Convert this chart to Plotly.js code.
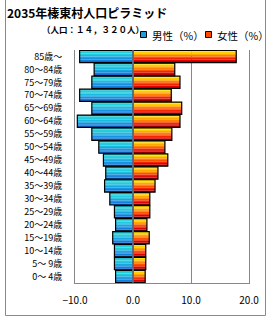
<!DOCTYPE html>
<html>
<head>
<meta charset="utf-8">
<script src="https://cdn.plot.ly/plotly-3.0.1.min.js"></script>
<style>
html,body{margin:0;padding:0;background:#fff;}
#chart{width:270px;height:320px;}
</style>
</head>
<body>
<div id="chart"></div>
<script>
// Age groups, bottom to top
const categories = ["0～ 4歳","5～ 9歳","10～14歳","15～19歳","20～24歳","25～29歳","30～34歳","35～39歳","40～44歳","45～49歳","50～54歳","55～59歳","60～64歳","65～69歳","70～74歳","75～79歳","80～84歳","85歳～"];
// Male share (%), drawn to the left as negative values
const maleValues = [-3.0,-3.2,-3.2,-3.5,-3.0,-3.2,-4.0,-4.9,-4.7,-5.1,-5.9,-7.1,-9.6,-7.1,-9.2,-7.1,-6.7,-9.2];
// Female share (%)
const femaleValues = [2.1,2.2,2.2,2.8,2.4,2.9,2.9,3.8,4.3,6.0,5.5,6.7,8.1,8.4,6.6,8.1,7.2,17.8];
const seriesNames = ["男性（%）","女性（%）"];
const xTickVals = [-10,0,10,20];

const FONT = '"Noto Sans CJK JP", "Noto Sans", sans-serif';
const BW = 0.95;
const maleColors = ['#1CC0CC','#22D0DA','#22CCE0','#1CBAE0','#18A6E0','#1892E0','#147EDC','#106AD2'];
const femaleColors = ['#FFE600','#FFCC00','#FFA800','#FF8000','#FF5200','#F42400','#DC0400','#B40000'];

function stripeTraces(values, colors, name){
  const n = colors.length, sw = BW / n;
  return colors.map((c, i) => ({
    type:'bar', orientation:'h', name:name, x:values, y:categories,
    width:sw, offset:BW/2 - (i+1)*sw,
    marker:{color:c, line:{width:0}}, showlegend:false, hoverinfo:'skip'
  }));
}
function outlineTrace(values, name){
  return {type:'bar', orientation:'h', name:name, x:values, y:categories,
    width:BW, marker:{color:'rgba(0,0,0,0)', line:{color:'#000', width:1.2}},
    showlegend:false, hoverinfo:'x+y'};
}

const data = [].concat(
  stripeTraces(maleValues, maleColors, seriesNames[0]),
  stripeTraces(femaleValues, femaleColors, seriesNames[1]),
  [outlineTrace(maleValues, seriesNames[0]), outlineTrace(femaleValues, seriesNames[1])]
);

const L=75, R=21, T=50, B=37, W=270, H=320;
const PW = W-L-R, PH = H-T-B;
const px = v => (v-L)/PW;
const py = v => 1-(v-T)/PH;

const layout = {
  width:W, height:H,
  margin:{l:L, r:R, t:T, b:B, pad:0},
  paper_bgcolor:'#fff', plot_bgcolor:'#fff',
  barmode:'overlay', showlegend:false,
  font:{family:FONT, color:'#000', size:9},
  title:{text:'<b>2035年榛東村人口ピラミッド</b>', font:{family:FONT, size:12, color:'#000'},
    x:7/W, xref:'container', xanchor:'left', y:1-14/H, yref:'container', yanchor:'middle'},
  xaxis:{range:[-10,20], tickvals:xTickVals, tickformat:'.1f', showgrid:true, gridcolor:'#878787', gridwidth:1,
    zeroline:false, showline:true, linecolor:'#878787', linewidth:1, ticks:'', ticklabelstandoff:8,
    tickfont:{family:FONT, size:10, color:'#000'}, fixedrange:true},
  yaxis:{type:'category', categoryorder:'array', categoryarray:categories, range:[-0.5,17.5],
    showgrid:false, showline:true, mirror:true, linecolor:'#878787', linewidth:1, ticks:'', ticklabelstandoff:10,
    tickfont:{family:FONT, size:9, color:'#000'}, fixedrange:true},
  shapes:[
    {type:'line', xref:'x', yref:'y', x0:0, x1:0, y0:-BW/2, y1:categories.length-1+BW/2, layer:'above',
      line:{color:'#6E8AAA', width:1.5}},
    {type:'rect', xref:'paper', yref:'paper', x0:px(5.5), x1:px(265.5), y0:py(315.5), y1:py(-5),
      line:{color:'#8A8A8A', width:1}, fillcolor:'rgba(0,0,0,0)', layer:'above'},
    {type:'rect', xref:'paper', yref:'paper', x0:px(140.5), x1:px(146.5), y0:py(37.5), y1:py(31.5),
      line:{color:'#000', width:1}, fillcolor:'#1A9CE0'},
    {type:'rect', xref:'paper', yref:'paper', x0:px(205.5), x1:px(211.5), y0:py(37.5), y1:py(31.5),
      line:{color:'#000', width:1}, fillcolor:'#FF4A00'}
  ],
  annotations:[
    {xref:'paper', yref:'paper', x:px(40), y:py(29), xanchor:'left', yanchor:'middle', showarrow:false,
      text:'<b>（人口：１４，３２０人）</b>', font:{family:FONT, size:8.5, color:'#000'}},
    {xref:'paper', yref:'paper', x:px(150), y:py(35), xanchor:'left', yanchor:'middle', showarrow:false,
      text:seriesNames[0], font:{family:FONT, size:10.5, color:'#000'}},
    {xref:'paper', yref:'paper', x:px(215), y:py(35), xanchor:'left', yanchor:'middle', showarrow:false,
      text:seriesNames[1], font:{family:FONT, size:10.5, color:'#000'}}
  ]
};

Plotly.newPlot('chart', data, layout, {displayModeBar:false, staticPlot:true});
</script>
</body>
</html>
